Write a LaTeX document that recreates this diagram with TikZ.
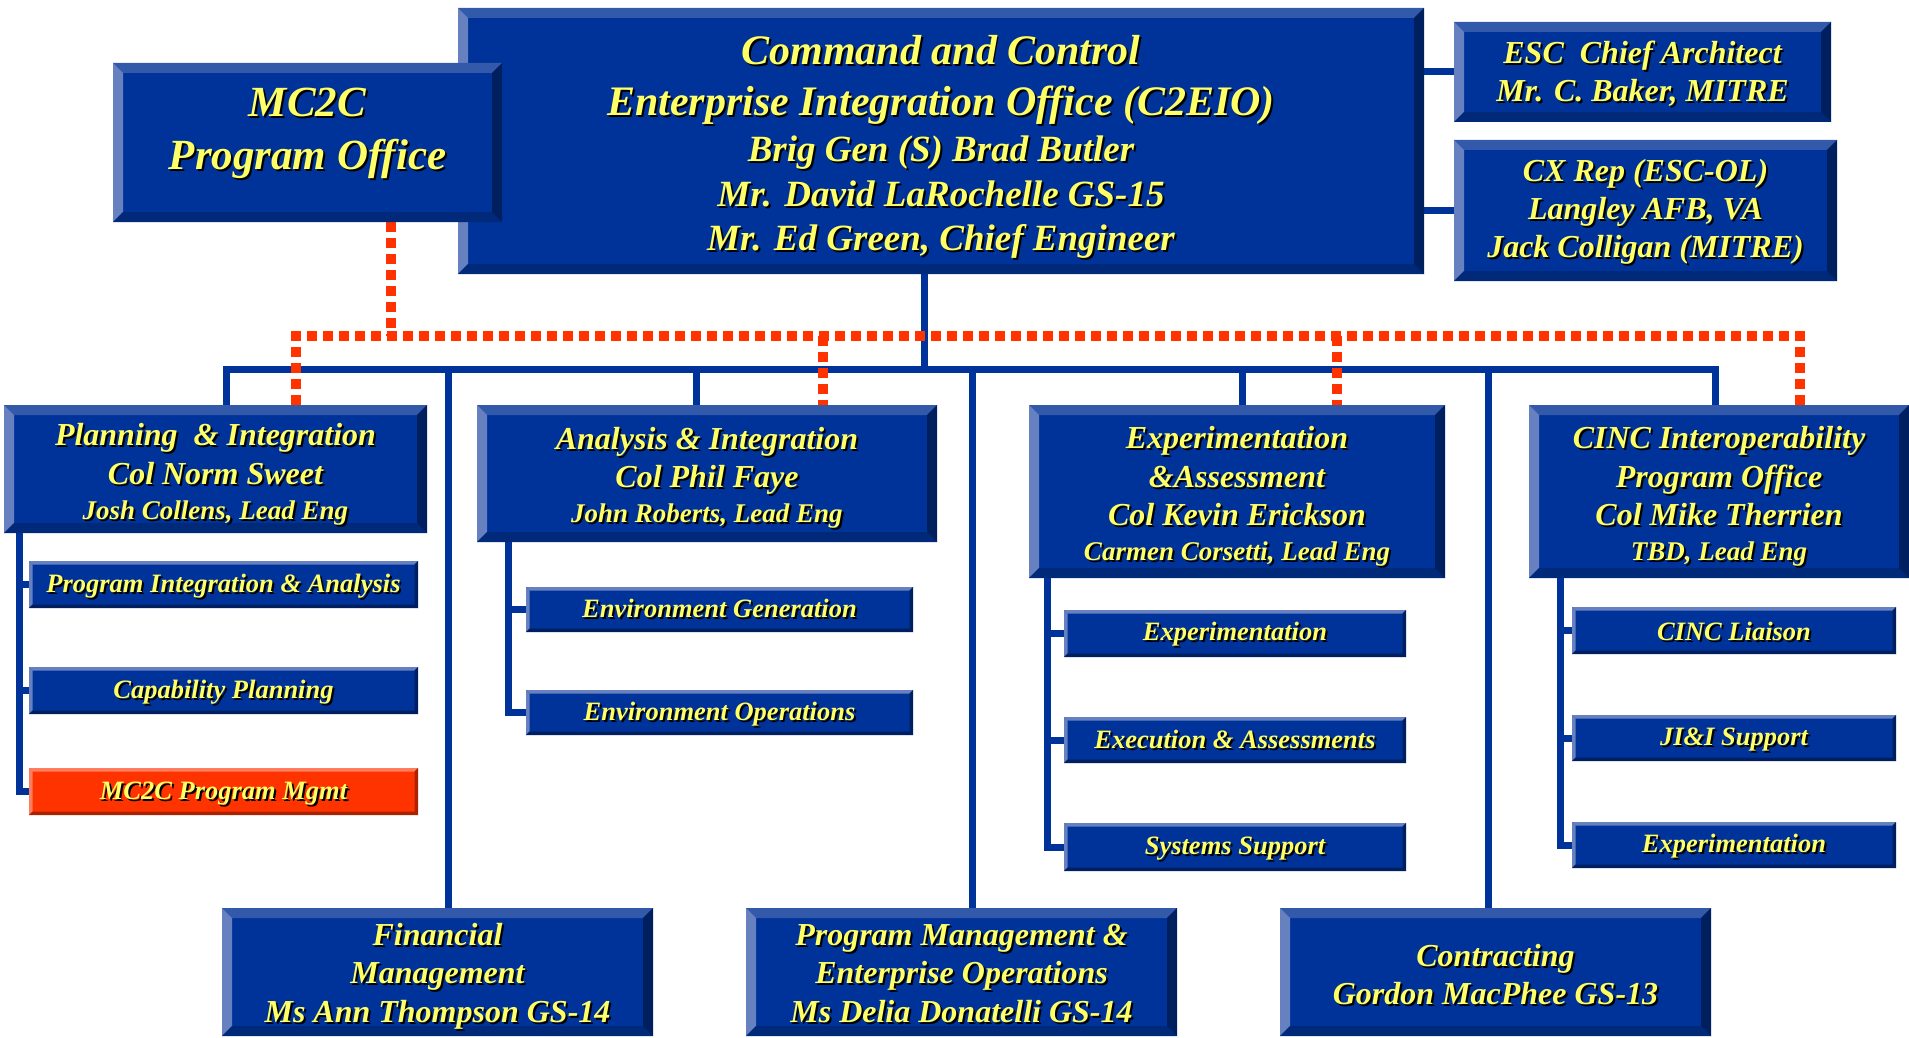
\documentclass[tikz,border=0pt]{standalone}
\usepackage{fontspec}
\setmainfont{Liberation Serif}
\usetikzlibrary{backgrounds}
\definecolor{boxblue}{RGB}{0,51,153}
\definecolor{bevtop}{RGB}{51,89,171}
\definecolor{bevleft}{RGB}{102,128,192}
\definecolor{bevbot}{RGB}{0,41,122}
\definecolor{bevright}{RGB}{0,31,94}
\definecolor{txtyel}{RGB}{255,255,102}
\definecolor{redfill}{RGB}{255,51,0}
\definecolor{reddark}{RGB}{170,34,0}
\definecolor{redlight}{RGB}{255,125,95}
\newcommand\sh[1]{\leavevmode\rlap{\kern2pt\raisebox{-2pt}{\color{black}#1}}#1}
\newcommand\fs[2]{\fontsize{#1}{#2}\selectfont}
\newcommand\bevel[5]{%
 \fill[#2] (path picture bounding box.north west) -- (path picture bounding box.north east) -- ([xshift=-#1,yshift=-#1]path picture bounding box.north east) -- ([xshift=#1,yshift=-#1]path picture bounding box.north west) -- cycle;
 \fill[#3] (path picture bounding box.north west) -- ([xshift=#1,yshift=-#1]path picture bounding box.north west) -- ([xshift=#1,yshift=#1]path picture bounding box.south west) -- (path picture bounding box.south west) -- cycle;
 \fill[#4] (path picture bounding box.south west) -- ([xshift=#1,yshift=#1]path picture bounding box.south west) -- ([xshift=-#1,yshift=#1]path picture bounding box.south east) -- (path picture bounding box.south east) -- cycle;
 \fill[#5] (path picture bounding box.south east) -- ([xshift=-#1,yshift=#1]path picture bounding box.south east) -- ([xshift=-#1,yshift=-#1]path picture bounding box.north east) -- (path picture bounding box.north east) -- cycle;
}
\tikzset{
  boxbase/.style={rectangle, inner sep=0pt, outer sep=0pt},
  bigbox/.style={boxbase, fill=boxblue, path picture={\bevel{10pt}{bevtop}{bevleft}{bevbot}{bevright}}},
  subbox/.style={boxbase, fill=boxblue, path picture={\bevel{3.5pt}{bevleft}{bevleft}{bevright}{bevright}}},
  redbox/.style={boxbase, fill=redfill, path picture={\bevel{3.5pt}{redlight}{redlight}{reddark}{reddark}}},
  lbl/.style={inner sep=0pt, align=center, text=txtyel},
  sublbl/.style={lbl, font=\bfseries\itshape\fs{26.5}{32}},
  conn/.style={draw=boxblue, line width=7pt},
  reddot/.style={draw=redfill, line width=10pt, dash pattern=on 10pt off 6pt},
  reddotsh/.style={draw=reddark, line width=10pt, dash pattern=on 10pt off 6pt, xshift=1.5pt, yshift=-1.5pt},
}
\begin{document}
\begin{tikzpicture}[x=1pt,y=-1pt]
\useasboundingbox (0,0) rectangle (1909,1038);
% ---------- boxes ----------
\node[bigbox, minimum width=966pt, minimum height=266pt] (top) at (941,141) {};
\node[bigbox, minimum width=389pt, minimum height=159pt] (mc2c) at (307.5,142.5) {};
\node[bigbox, minimum width=377pt, minimum height=100pt] (esc) at (1642.5,72) {};
\node[bigbox, minimum width=383pt, minimum height=141pt] (cx) at (1645.5,210.5) {};
\node[bigbox, minimum width=423pt, minimum height=128pt] (pi) at (215.5,469) {};
\node[bigbox, minimum width=460pt, minimum height=137pt] (ai) at (707,473.5) {};
\node[bigbox, minimum width=416pt, minimum height=173pt] (ea) at (1237,491.5) {};
\node[bigbox, minimum width=380pt, minimum height=173pt] (cinc) at (1719,491.5) {};
\node[subbox, minimum width=389pt, minimum height=47pt] (pi1) at (223.5,584.5) {};
\node[subbox, minimum width=389pt, minimum height=47pt] (pi2) at (223.5,690.5) {};
\node[redbox, minimum width=389pt, minimum height=47pt] (pi3) at (223.5,791.5) {};
\node[subbox, minimum width=387pt, minimum height=45pt] (ai1) at (719.5,609.5) {};
\node[subbox, minimum width=387pt, minimum height=45pt] (ai2) at (719.5,712.5) {};
\node[subbox, minimum width=342pt, minimum height=47pt] (ea1) at (1235,633.5) {};
\node[subbox, minimum width=342pt, minimum height=46pt] (ea2) at (1235,740) {};
\node[subbox, minimum width=342pt, minimum height=48pt] (ea3) at (1235,847) {};
\node[subbox, minimum width=324pt, minimum height=47pt] (ci1) at (1734,630.5) {};
\node[subbox, minimum width=324pt, minimum height=46pt] (ci2) at (1734,738) {};
\node[subbox, minimum width=324pt, minimum height=46pt] (ci3) at (1734,845) {};
\node[bigbox, minimum width=431pt, minimum height=128pt] (fin) at (437.5,972) {};
\node[bigbox, minimum width=431pt, minimum height=128pt] (pm) at (961.5,972) {};
\node[bigbox, minimum width=431pt, minimum height=128pt] (con) at (1495.5,972) {};
% ---------- texts ----------
\node[lbl, font=\bfseries\itshape\fs{42}{51}] (topt) at ([yshift=-7pt]top.center)
 {\sh{Command and Control}\\[0pt]\sh{Enterprise Integration Office (C2EIO)}\\[-5.5pt]\fs{37}{45}\sh{Brig Gen (S) Brad Butler}\\[-6pt]\fs{37}{45}\sh{Mr. David LaRochelle GS-15}\\[-7pt]\fs{37}{45}\sh{Mr. Ed Green, Chief Engineer}};
\node[lbl, font=\bfseries\itshape\fs{43}{53}] (mc2ct) at ([yshift=8pt]mc2c.center)
 {\sh{MC2C}\\\sh{Program Office}};
\node[lbl, font=\bfseries\itshape\fs{32}{38}] (esct) at ([yshift=-2.5pt]esc.center)
 {\sh{ESC\ \ Chief Architect}\\\sh{Mr. C. Baker, MITRE}};
\node[lbl, font=\bfseries\itshape\fs{32}{38}] (cxt) at ([yshift=-2.5pt]cx.center)
 {\sh{CX Rep (ESC-OL)}\\\sh{Langley AFB, VA}\\\sh{Jack Colligan (MITRE)}};
\node[lbl, font=\bfseries\itshape\fs{32}{39}] (pit) at ([yshift=-6pt]pi.center)
 {\sh{Planning\ \ \& Integration}\\\sh{Col Norm Sweet}\\[-4pt]\fs{27}{35}\sh{Josh Collens, Lead Eng}};
\node[lbl, font=\bfseries\itshape\fs{32}{38}] (ait) at ([yshift=-5.5pt]ai.center)
 {\sh{Analysis \& Integration}\\\sh{Col Phil Faye}\\[-3pt]\fs{27}{35}\sh{John Roberts, Lead Eng}};
\node[lbl, font=\bfseries\itshape\fs{32}{38.5}] (eat) at ([yshift=-6pt]ea.center)
 {\sh{Experimentation}\\\sh{\&Assessment}\\\sh{Col Kevin Erickson}\\[-3.5pt]\fs{27}{35}\sh{Carmen Corsetti, Lead Eng}};
\node[lbl, font=\bfseries\itshape\fs{32}{38.5}] (cinct) at ([yshift=-6pt]cinc.center)
 {\sh{CINC Interoperability}\\\sh{Program Office}\\\sh{Col Mike Therrien}\\[-3.5pt]\fs{27}{35}\sh{TBD, Lead Eng}};
\node[sublbl] (pi1t) at ([yshift=-2.5pt]pi1.center) {\sh{Program Integration \& Analysis}};
\node[sublbl] (pi2t) at ([yshift=-2.5pt]pi2.center) {\sh{Capability Planning}};
\node[sublbl] (pi3t) at ([yshift=-3pt]pi3.center) {\sh{MC2C Program Mgmt}};
\node[sublbl] (ai1t) at ([yshift=0pt]ai1.center) {\sh{Environment Generation}};
\node[sublbl] (ai2t) at ([yshift=-3pt]ai2.center) {\sh{Environment Operations}};
\node[sublbl] (ea1t) at ([yshift=-1.5pt]ea1.center) {\sh{Experimentation}};
\node[sublbl] (ea2t) at ([yshift=0pt]ea2.center) {\sh{Execution \& Assessments}};
\node[sublbl] (ea3t) at ([yshift=-3pt]ea3.center) {\sh{Systems Support}};
\node[sublbl] (ci1t) at ([yshift=-1.5pt]ci1.center) {\sh{CINC Liaison}};
\node[sublbl] (ci2t) at ([yshift=-2.5pt]ci2.center) {\sh{JI\&I Support}};
\node[sublbl] (ci3t) at ([yshift=-2.5pt]ci3.center) {\sh{Experimentation}};
\node[lbl, font=\bfseries\itshape\fs{32}{38.5}] (fint) at ([yshift=-5pt]fin.center)
 {\sh{Financial}\\\sh{Management}\\\sh{Ms Ann Thompson GS-14}};
\node[lbl, font=\bfseries\itshape\fs{32}{38.5}] (pmt) at ([yshift=-2.5pt]pm.center)
 {\sh{Program Management \&}\\\sh{Enterprise Operations}\\\sh{Ms Delia Donatelli GS-14}};
\node[lbl, font=\bfseries\itshape\fs{32}{38.5}] (cont) at ([yshift=-3.5pt]con.center)
 {\sh{Contracting}\\\sh{Gordon MacPhee GS-13}};
% ---------- connectors ----------
\begin{scope}[on background layer]
\fill[white] (0,0) rectangle (1909,1038);
\coordinate (tv) at (924,369);
\coordinate (bL) at (226,369);
\coordinate (bR) at (1715,369);
\coordinate (b2) at (448,369);
\coordinate (b3) at (696,369);
\coordinate (b4) at (972,369);
\coordinate (b5) at (1242,369);
\coordinate (b6) at (1488,369);
\draw[conn] (tv |- top.south) -- (tv);
\draw[conn] (bL |- pi.north) -- (bL) -- (bR) -- (bR |- cinc.north);
\draw[conn] (b2) -- (b2 |- fin.north);
\draw[conn] (b3) -- (b3 |- ai.north);
\draw[conn] (b4) -- (b4 |- pm.north);
\draw[conn] (b5) -- (b5 |- ea.north);
\draw[conn] (b6) -- (b6 |- con.north);
\draw[conn] (esc.west) -- (esc.west -| top.east);
\draw[conn] (cx.west) -- (cx.west -| top.east);
\coordinate (pv) at (19,0);
\draw[conn] (pv |- pi.south) |- (pi3.west);
\draw[conn] (pv |- pi1.west) -- (pi1.west);
\draw[conn] (pv |- pi2.west) -- (pi2.west);
\coordinate (av) at (508,0);
\draw[conn] (av |- ai.south) |- (ai2.west);
\draw[conn] (av |- ai1.west) -- (ai1.west);
\coordinate (ev) at (1047,0);
\draw[conn] (ev |- ea.south) |- (ea3.west);
\draw[conn] (ev |- ea1.west) -- (ea1.west);
\draw[conn] (ev |- ea2.west) -- (ea2.west);
\coordinate (cv) at (1560,0);
\draw[conn] (cv |- cinc.south) |- (ci3.west);
\draw[conn] (cv |- ci1.west) -- (ci1.west);
\draw[conn] (cv |- ci2.west) -- (ci2.west);
\coordinate (rL) at (296,336);
\coordinate (rM) at (391,336);
\coordinate (rA) at (823,336);
\coordinate (rE) at (1337,336);
\coordinate (rR) at (1800,336);
\foreach \st in {reddotsh,reddot}{
 \draw[\st] (rM |- mc2c.south) -- (rM);
 \draw[\st] (rL |- pi.north) -- (rL) -- (rR) -- (rR |- cinc.north);
 \draw[\st] (rA) -- (rA |- ai.north);
 \draw[\st] (rE) -- (rE |- ea.north);
}
\end{scope}
\end{tikzpicture}
\end{document}
